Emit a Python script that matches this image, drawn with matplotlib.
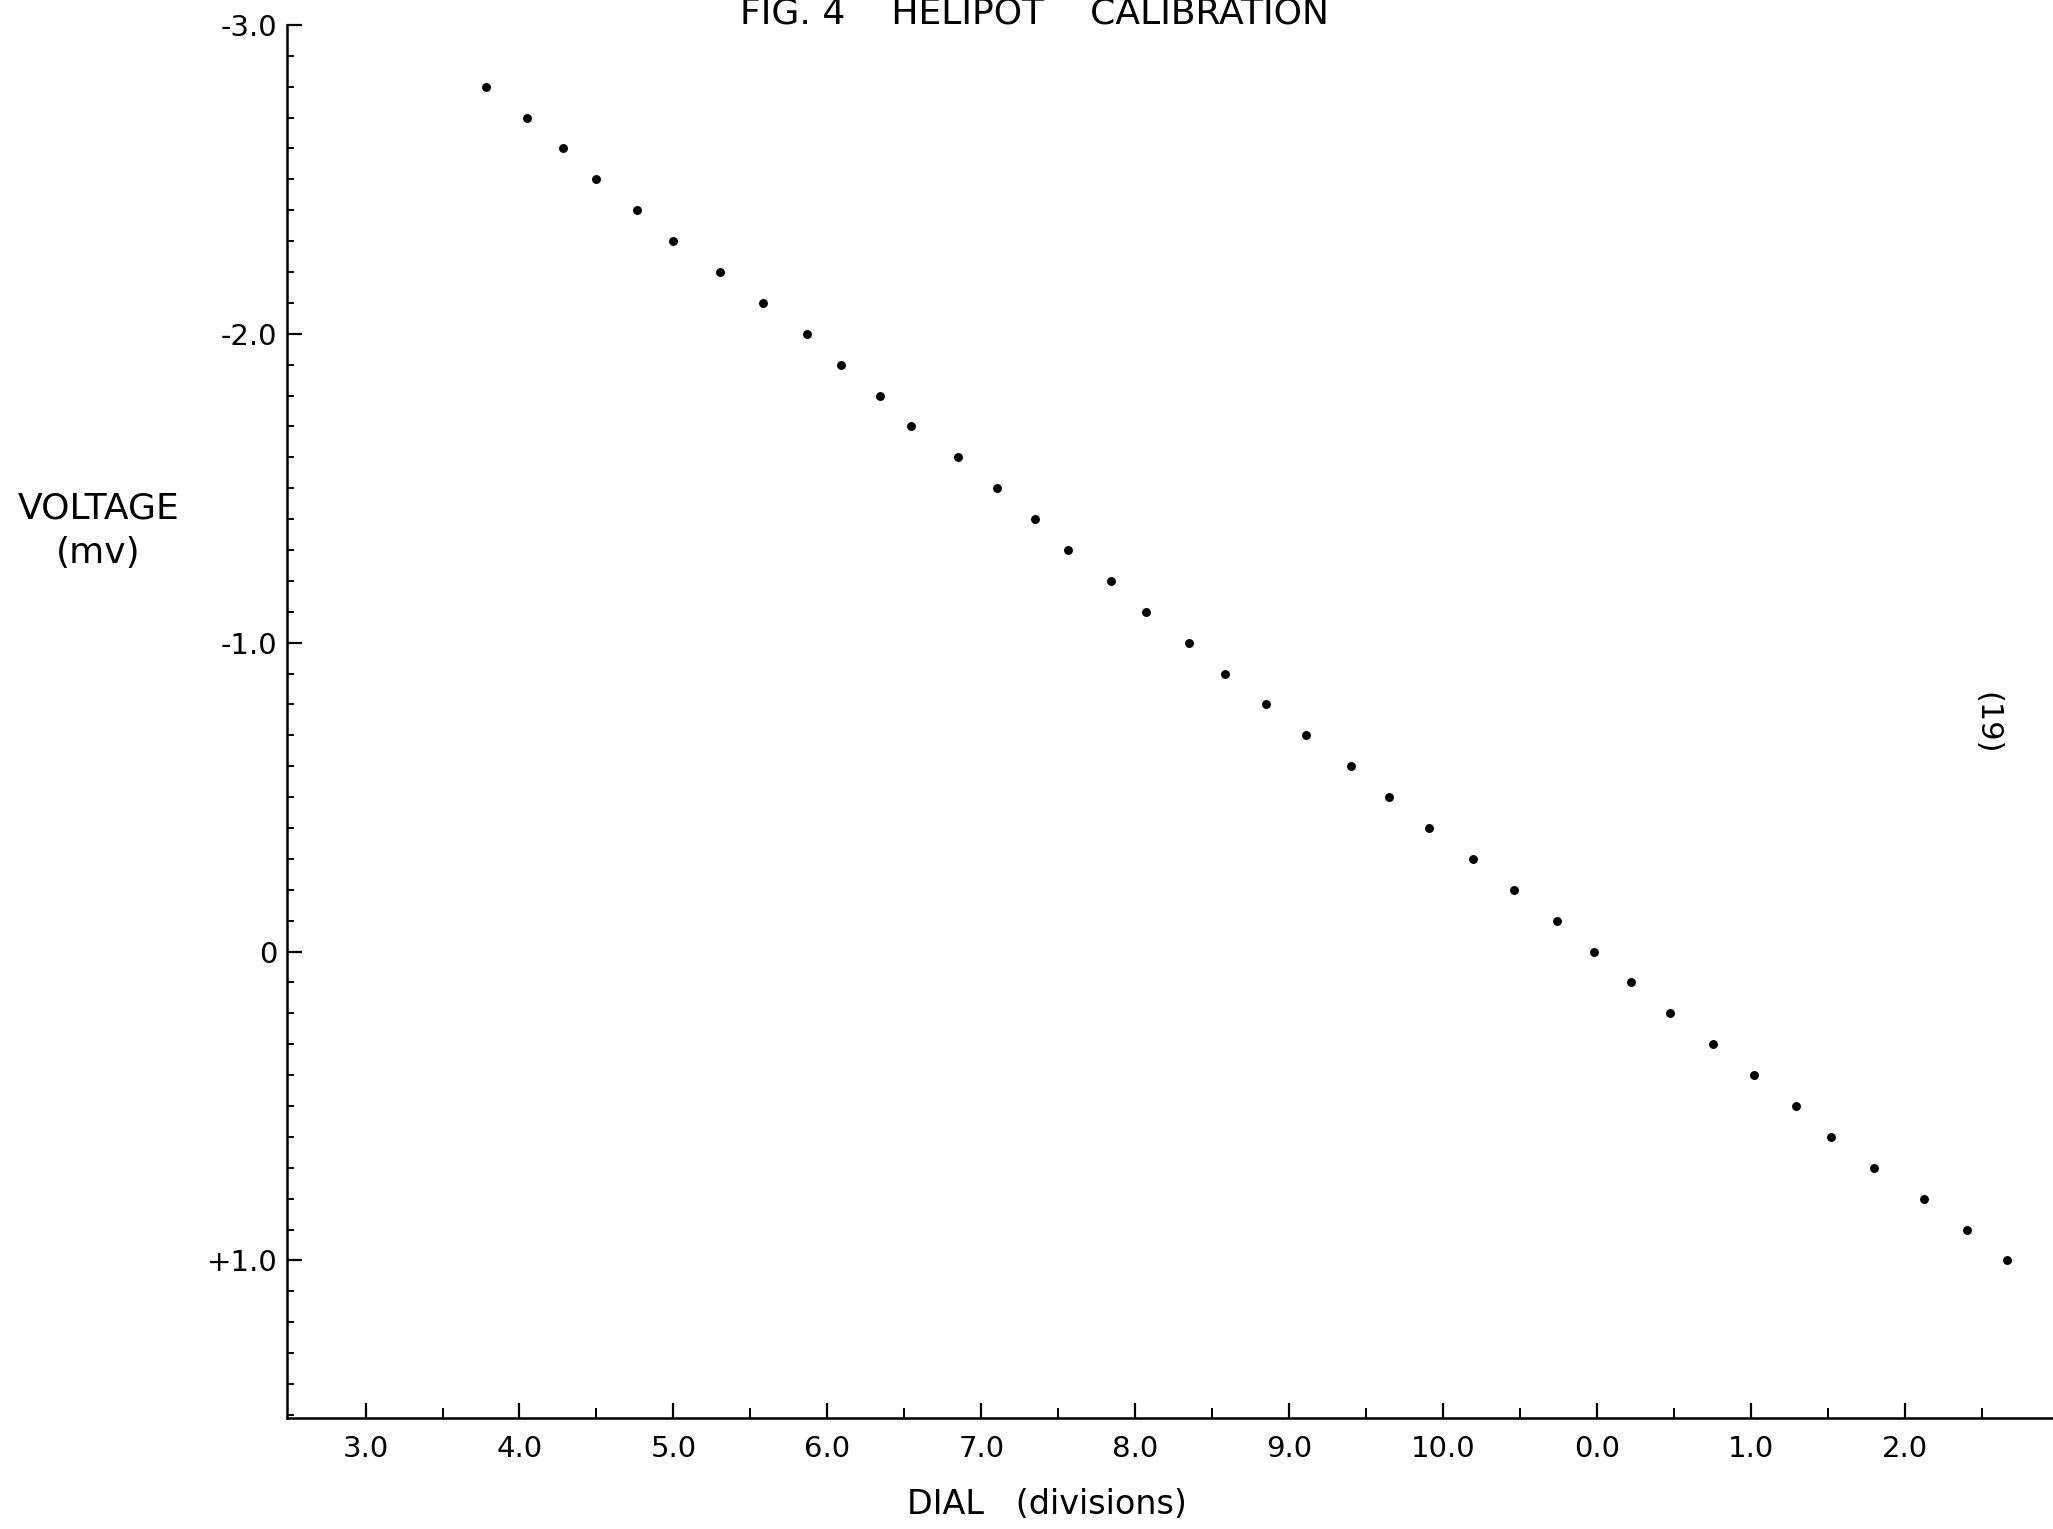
import matplotlib.pyplot as plt
from matplotlib.ticker import FixedLocator, MultipleLocator

plt.rcParams['font.family'] = ['DejaVu Sans']

# dial position (continuous scale, 11.0 = "0.0" on the second turn)
dial = [3.78, 4.05, 4.28, 4.50, 4.76, 5.00, 5.30, 5.58, 5.87, 6.09,
        6.34, 6.54, 6.85, 7.10, 7.35, 7.56, 7.84, 8.07, 8.35, 8.58,
        8.85, 9.11, 9.40, 9.65, 9.91, 10.19, 10.46, 10.74, 10.98, 11.22,
        11.47, 11.75, 12.02, 12.29, 12.52, 12.80, 13.12, 13.40, 13.66]
voltage = [-2.8, -2.7, -2.6, -2.5, -2.4, -2.3, -2.2, -2.1, -2.0, -1.9,
           -1.8, -1.7, -1.6, -1.5, -1.4, -1.3, -1.2, -1.1, -1.0, -0.9,
           -0.8, -0.7, -0.6, -0.5, -0.4, -0.3, -0.2, -0.1, 0.0, 0.1,
           0.2, 0.3, 0.4, 0.5, 0.6, 0.7, 0.8, 0.9, 1.0]

x_ticks = [3, 4, 5, 6, 7, 8, 9, 10, 11, 12, 13]
x_labels = ['3.0', '4.0', '5.0', '6.0', '7.0', '8.0', '9.0', '10.0', '0.0', '1.0', '2.0']
y_ticks = [-3.0, -2.0, -1.0, 0.0, 1.0]
y_labels = ['-3.0', '-2.0', '-1.0', '0', '+1.0']

fig = plt.figure(figsize=(20.53, 15.29), dpi=100)
ax = fig.add_axes([0.1398, 0.0726, 0.8602, 0.9111])

ax.plot(dial, voltage, 'o', color='black', markersize=5.4, linestyle='none')

ax.set_xlim(2.49, 13.96)
ax.set_ylim(1.51, -3.0)  # negative voltage at the top

for s in ['top', 'right']:
    ax.spines[s].set_visible(False)
for s in ['left', 'bottom']:
    ax.spines[s].set_linewidth(1.8)

ax.xaxis.set_major_locator(FixedLocator(x_ticks))
ax.set_xticklabels(x_labels)
ax.xaxis.set_minor_locator(FixedLocator([t + 0.5 for t in x_ticks]))
ax.set_yticks(y_ticks)
ax.set_yticklabels(y_labels)
ax.yaxis.set_minor_locator(MultipleLocator(0.1))

ax.tick_params(axis='both', which='major', direction='in', length=11, width=1.6,
               labelsize=21, pad=12)
ax.tick_params(axis='x', which='minor', direction='in', length=7, width=1.4)
ax.tick_params(axis='y', which='minor', direction='in', length=5, width=1.4)
ax.tick_params(axis='y', which='major', pad=7)

fig.text(0.504, 0.991, 'FIG. 4    HELIPOT    CALIBRATION', ha='center', va='center',
         fontsize=26)
fig.text(0.048, 0.653, 'VOLTAGE\n(mv)', ha='center', va='center', fontsize=26,
         linespacing=1.4)
fig.text(0.510, 0.016, 'DIAL   (divisions)', ha='center', va='center', fontsize=24)
fig.text(0.968, 0.527, '(19)', ha='center', va='center', fontsize=22, rotation=-90)

fig.savefig('out.png', dpi=100)
